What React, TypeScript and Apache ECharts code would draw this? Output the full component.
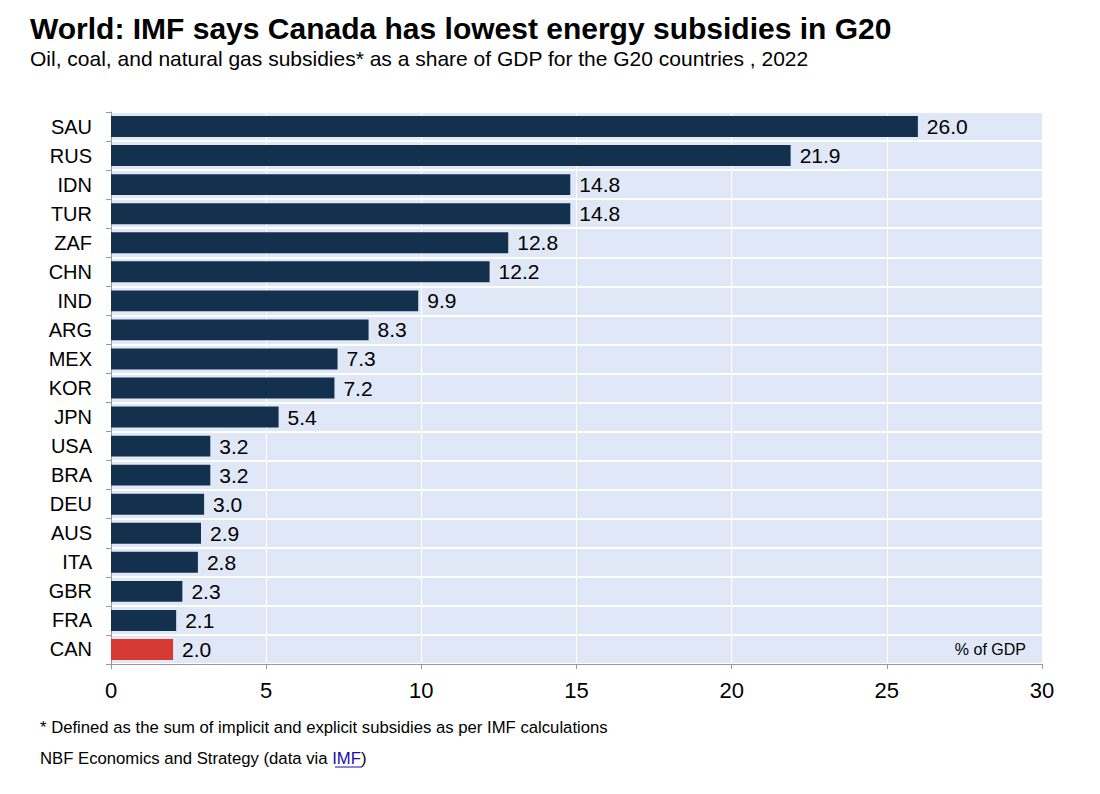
import React, { useRef, useEffect } from "react";
import * as echarts from "echarts";

const countries = [
  "SAU", "RUS", "IDN", "TUR", "ZAF", "CHN", "IND", "ARG", "MEX", "KOR",
  "JPN", "USA", "BRA", "DEU", "AUS", "ITA", "GBR", "FRA", "CAN",
];
const subsidies = [
  26.0, 21.9, 14.8, 14.8, 12.8, 12.2, 9.9, 8.3, 7.3, 7.2,
  5.4, 3.2, 3.2, 3.0, 2.9, 2.8, 2.3, 2.1, 2.0,
];
const highlight = "CAN";
const xTicks = [0, 5, 10, 15, 20, 25, 30];

const FONT = "'Liberation Sans', Arial, Helvetica, sans-serif";

const App = function () {
  const chart = useRef<HTMLDivElement>(null);
  useEffect(() => {
    if (!chart.current) return;
    const myChart = echarts.init(chart.current, undefined, { renderer: "svg" });
    const option = {
      animation: false,
      backgroundColor: "#ffffff",
      textStyle: { fontFamily: FONT },
      title: [
        {
          text: "World: IMF says Canada has lowest energy subsidies in G20",
          left: 25,
          top: 8,
          textStyle: { fontSize: 30, fontWeight: "bold", color: "#000", fontFamily: FONT },
        },
        {
          text: "Oil, coal, and natural gas subsidies* as a share of GDP for the G20 countries , 2022",
          left: 25,
          top: 43,
          textStyle: { fontSize: 21, fontWeight: "normal", color: "#000", fontFamily: FONT },
        },
      ],
      grid: {
        left: 111,
        right: 58,
        top: 112,
        bottom: 130,
        show: true,
        backgroundColor: "#e0e8f8",
        borderWidth: 0,
      },
      xAxis: {
        type: "value",
        min: xTicks[0],
        max: xTicks[xTicks.length - 1],
        interval: 5,
        axisLine: { show: true, lineStyle: { color: "#999", width: 1 } },
        axisTick: { show: true, length: 5, lineStyle: { color: "#999" } },
        axisLabel: { color: "#000", fontSize: 22, margin: 15, fontFamily: FONT },
        splitLine: { show: true, lineStyle: { color: "#ffffff", width: 1 } },
      },
      yAxis: {
        type: "category",
        data: countries,
        inverse: true,
        axisLine: { show: true, lineStyle: { color: "#999", width: 1 } },
        axisTick: { show: true, length: 5, lineStyle: { color: "#999" } },
        axisLabel: { color: "#000", fontSize: 20, margin: 19, fontFamily: FONT },
        splitLine: { show: true, lineStyle: { color: "#ffffff", width: 2 } },
      },
      series: [
        {
          type: "bar",
          barWidth: "72%",
          data: subsidies.map((v, i) => ({
            value: v,
            itemStyle: { color: countries[i] === highlight ? "#d63a33" : "#13304d" },
          })),
          label: {
            show: true,
            position: "right",
            distance: 9,
            color: "#000",
            fontSize: 21,
            fontFamily: FONT,
            formatter: (p: any) => Number(p.value).toFixed(1),
          },
        },
      ],
      graphic: [
        {
          type: "text",
          right: 74,
          top: 641,
          style: { text: "% of GDP", fontSize: 16, fill: "#000", fontFamily: FONT },
        },
        {
          type: "text",
          left: 40,
          top: 719,
          style: {
            text: "* Defined as the sum of implicit and explicit subsidies as per IMF calculations",
            fontSize: 16.7,
            fill: "#000",
            fontFamily: FONT,
          },
        },
        {
          type: "text",
          left: 40,
          top: 750,
          style: {
            text: "{a|NBF Economics and Strategy (data via }{b|IMF}{a|)}",
            fontFamily: FONT,
            rich: {
              a: { fontSize: 16.7, fill: "#000", fontFamily: FONT },
              b: { fontSize: 16.7, fill: "#1a0dab", fontFamily: FONT },
            },
          },
        },
        {
          type: "line",
          shape: { x1: 335, y1: 767, x2: 362, y2: 767 },
          style: { stroke: "#1a0dab", lineWidth: 1 },
        },
      ],
    };
    myChart.setOption(option);
    return () => {
      myChart.dispose();
    };
  }, []);
  return (
    <div
      ref={chart}
      style={{ position: "absolute", left: 0, top: 0, width: 1100, height: 794 }}
    ></div>
  );
};
export default App;
